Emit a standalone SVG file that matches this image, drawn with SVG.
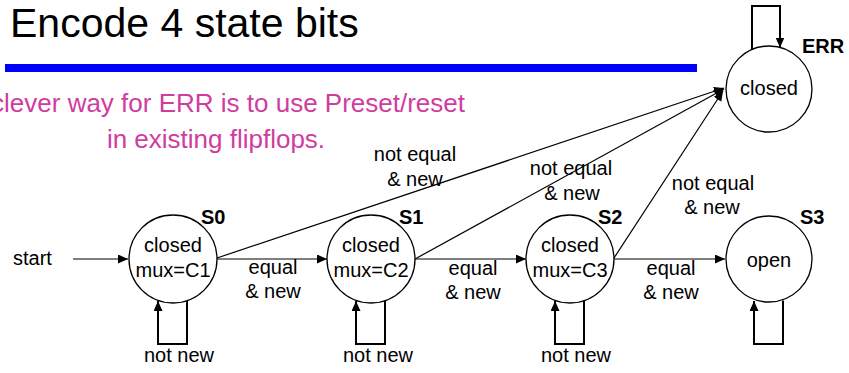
<svg xmlns="http://www.w3.org/2000/svg" width="849" height="373" viewBox="0 0 849 373">
<style>
text{font-family:"Liberation Sans",Arial,sans-serif;fill:#000}
.t{font-size:20px;text-anchor:middle}
.b{font-size:20px;font-weight:bold}
.pink{font-size:26px;fill:#D03CA0}
.node{fill:#fff;stroke:#000;stroke-width:1.3}
.edge{fill:none;stroke:#000;stroke-width:1.2}
.loop{fill:none;stroke:#000;stroke-width:2}
</style>
<defs>
<marker id="ah" markerUnits="userSpaceOnUse" markerWidth="12" markerHeight="10" refX="10" refY="4.5" orient="auto">
<path d="M0,0 L10,4.5 L0,9 Z" fill="#000"/>
</marker>
</defs>
<rect width="849" height="373" fill="#fff"/>
<text x="10" y="37" style="font-size:41px">Encode 4 state bits</text>
<rect x="5" y="64" width="692" height="8" fill="#0000FF"/>
<text class="pink" x="465" y="112" text-anchor="end">clever way for ERR is to use Preset/reset</text>
<text class="pink" x="216" y="148" text-anchor="middle">in existing flipflops.</text>

<g id="connectors">
<line class="edge" x1="73" y1="259" x2="128" y2="259" marker-end="url(#ah)"/>
<line class="edge" x1="217" y1="259" x2="327" y2="259" marker-end="url(#ah)"/>
<line class="edge" x1="415" y1="259" x2="526" y2="259" marker-end="url(#ah)"/>
<line class="edge" x1="614" y1="259" x2="725" y2="259" marker-end="url(#ah)"/>
<line class="edge" x1="217" y1="258" x2="724" y2="88" marker-end="url(#ah)"/>
<line class="edge" x1="415" y1="259" x2="724" y2="89" marker-end="url(#ah)"/>
<line class="edge" x1="614" y1="258" x2="723" y2="91" marker-end="url(#ah)"/>
<path class="loop" d="M187,300.5 V344 H158 V301" marker-end="url(#ah)"/>
<path class="loop" d="M385,300.5 V344 H356 V301" marker-end="url(#ah)"/>
<path class="loop" d="M584,300.5 V344 H555 V301" marker-end="url(#ah)"/>
<path class="loop" d="M783,300.5 V344 H754 V301" marker-end="url(#ah)"/>
<path class="loop" d="M752,49.5 V6 H780 V47.5" marker-end="url(#ah)"/>
<text class="t" x="273" y="274">equal</text>
<text class="t" x="273" y="298">&amp; new</text>
<text class="t" x="473" y="275">equal</text>
<text class="t" x="473" y="299">&amp; new</text>
<text class="t" x="671" y="275">equal</text>
<text class="t" x="671" y="299">&amp; new</text>
<text class="t" x="415" y="161">not equal</text>
<text class="t" x="415" y="186">&amp; new</text>
<text class="t" x="571" y="175">not equal</text>
<text class="t" x="572" y="200">&amp; new</text>
<text class="t" x="713" y="190">not equal</text>
<text class="t" x="712" y="214">&amp; new</text>
<text class="t" x="179" y="362">not new</text>
<text class="t" x="378" y="362">not new</text>
<text class="t" x="576" y="362">not new</text>
<text x="13" y="265" style="font-size:20px">start</text>
</g>

<g id="S0">
<circle class="node" cx="173" cy="259" r="44"/>
<text class="t" x="173" y="252">closed</text>
<text class="t" x="173" y="277">mux=C1</text>
<text class="b" x="201" y="224">S0</text>
</g>
<g id="S1">
<circle class="node" cx="371" cy="259" r="44"/>
<text class="t" x="371" y="252">closed</text>
<text class="t" x="371" y="277">mux=C2</text>
<text class="b" x="399" y="224">S1</text>
</g>
<g id="S2">
<circle class="node" cx="570" cy="259" r="44"/>
<text class="t" x="570" y="252">closed</text>
<text class="t" x="570" y="277">mux=C3</text>
<text class="b" x="598" y="224">S2</text>
</g>
<g id="S3">
<circle class="node" cx="769" cy="259" r="43"/>
<text class="t" x="769" y="267">open</text>
<text class="b" x="800" y="224">S3</text>
</g>
<g id="ERR">
<circle class="node" cx="769" cy="89" r="43"/>
<text class="t" x="769" y="95">closed</text>
<text class="b" x="802" y="53">ERR</text>
</g>
</svg>
